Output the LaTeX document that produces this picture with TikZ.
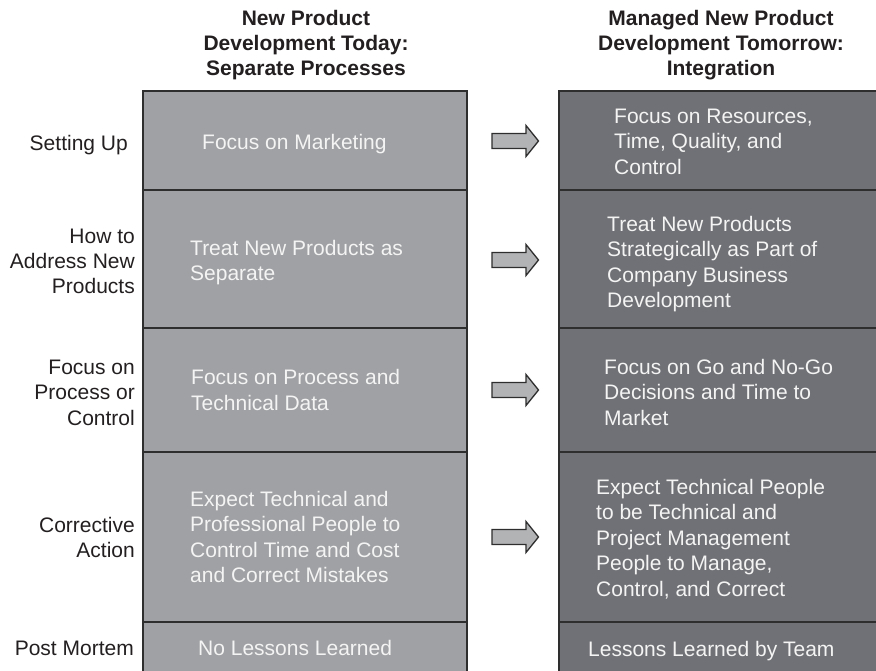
\documentclass[tikz,border=0pt]{standalone}
\usepackage{fontspec}
\setmainfont{Liberation Sans}
\definecolor{leftfill}{HTML}{A0A1A4}
\definecolor{rightfill}{HTML}{707176}
\definecolor{arrowfill}{HTML}{B2B3B5}
\definecolor{linecol}{HTML}{2E2E2E}
\definecolor{labelcol}{HTML}{231F20}
\definecolor{celltext}{HTML}{F4F4F4}
\begin{document}
\begin{tikzpicture}[x=1pt,y=-1pt,
  celltxt/.style={anchor=west, align=left, inner sep=0pt, text=celltext, font=\fontsize{21}{25.5}\selectfont},
  rowlabel/.style={anchor=east, align=right, inner sep=0pt, text=labelcol, font=\fontsize{21}{25.5}\selectfont},
  header/.style={align=center, inner sep=0pt, text=labelcol, font=\bfseries\fontsize{21}{25}\selectfont},
  gridline/.style={draw=linecol, line width=1.5pt},
  rarrow/.pic={\draw[draw=linecol, fill=arrowfill, line width=1.3pt, line join=miter]
     (-23,-7.5) -- (11,-7.5) -- (11,-15.5) -- (23.5,0) -- (11,15.5) -- (11,7.5) -- (-23,7.5) -- cycle;}
]
\useasboundingbox (0,0) rectangle (876,671);
% columns
\fill[leftfill] (143,91) rectangle (467,690);
\fill[rightfill] (559,91) rectangle (890,690);
\draw[gridline] (143,690) -- (143,91) -- (467,91) -- (467,690);
\draw[gridline] (559,690) -- (559,91) -- (890,91);
\foreach \y in {190,328,452,622} {
  \draw[gridline] (143,\y) -- (467,\y);
  \draw[gridline] (559,\y) -- (890,\y);
}
% headers
\node[header] (hleft) at (306,45.5) {\strut New Product\\\strut Development Today:\\\strut Separate Processes};
\node[header] (hright) at (721,45.5) {\strut Managed New Product\\\strut Development Tomorrow:\\\strut Integration};
% row labels
\node[rowlabel] (l1) at (128,145.4) {\strut Setting Up};
\node[rowlabel] (l2) at (135,263.4) {\strut How to\\\strut Address New\\\strut Products};
\node[rowlabel] (l3) at (135,394.4) {\strut Focus on\\\strut Process or\\\strut Control};
\node[rowlabel] (l4) at (135,539.9) {\strut Corrective\\\strut Action};
\node[rowlabel] (l5) at (134,650.4) {\strut Post Mortem};
% left cells
\node[celltxt] (a1) at (202,144.4) {\strut Focus on Marketing};
\node[celltxt] (a2) at (190,262.9) {\strut Treat New Products as\\\strut Separate};
\node[celltxt] (a3) at (191,392.4) {\strut Focus on Process and\\\strut Technical Data};
\node[celltxt] (a4) at (190,539.4) {\strut Expect Technical and\\\strut Professional People to\\\strut Control Time and Cost\\\strut and Correct Mistakes};
\node[celltxt] (a5) at (198,650.4) {\strut No Lessons Learned};
% right cells
\node[celltxt] (b1) at (614,143.9) {\strut Focus on Resources,\\\strut Time, Quality, and\\\strut Control};
\node[celltxt] (b2) at (607,264.4) {\strut Treat New Products\\\strut Strategically as Part of\\\strut Company Business\\\strut Development};
\node[celltxt] (b3) at (604,394.4) {\strut Focus on Go and No-Go\\\strut Decisions and Time to\\\strut Market};
\node[celltxt] (b4) at (596,539.9) {\strut Expect Technical People\\\strut to be Technical and\\\strut Project Management\\\strut People to Manage,\\\strut Control, and Correct};
\node[celltxt] (b5) at (588,651.4) {\strut Lessons Learned by Team};
% arrows
\pic at (515,141) {rarrow};
\pic at (515,260) {rarrow};
\pic at (515,390) {rarrow};
\pic at (515,537) {rarrow};
\end{tikzpicture}
\end{document}
